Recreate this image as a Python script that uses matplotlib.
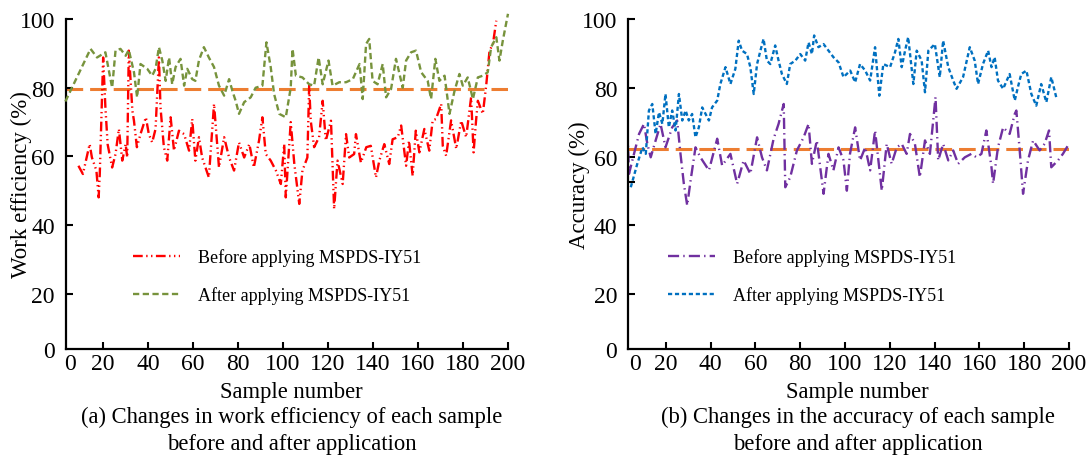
import matplotlib
matplotlib.use('Agg')
import matplotlib.pyplot as plt

plt.rcParams['font.family'] = ['Liberation Serif', 'DejaVu Serif']
plt.rcParams['lines.scale_dashes'] = False

# (a) work efficiency, before applying
amostra_antes_a = [9, 11, 14, 15, 17, 18, 18.5, 20, 21, 22, 24, 25.5, 27, 28.5, 30, 30.7, 31.4, 33, 33.7, 35, 36.6, 39,
                   40.3, 41.8, 43.3, 44.8, 45.5, 47, 48.5, 50, 51.5, 53.7, 56, 58.2, 59.6, 61, 62.6, 64, 67, 69.3,
                   70, 71.5, 73.8, 76, 78.2, 80.4, 82.7, 85, 87, 89.3, 90.8, 92.3, 94.5, 96.8, 99, 100.5, 101.2,
                   103.4, 105, 107.2, 108.6, 110.8, 111.6, 112.3, 113.8, 116, 117.6, 119, 121.3, 122.7, 124.2,
                   126.5, 128, 129.4, 131.6, 132.4, 134.6, 137, 139, 141.3, 142.8, 145, 147.2, 148.7, 151, 152.5,
                   154.7, 156, 157.6, 159, 160.6, 162.8, 165, 166.5, 168, 170.3, 171, 172.5, 174.7, 177, 179.2,
                   181.4, 183.6, 184.7, 185.8, 186.6, 188.8, 190.3, 191.8, 193.3, 194.8]
eficiencia_antes = [57.3, 54.9, 63.6, 59.7, 55.9, 48.1, 54.9, 88.8, 74.3, 63.5, 56.8, 60.7, 68, 58.8, 63.6, 59.7, 90.8,
                    73.3, 70.4, 62.7, 66.5, 71.4, 66.5, 64.1, 68, 88.8, 74.3, 62.7, 58.8, 71.4, 61.7, 67.5, 66.5, 61.7,
                    70.9, 58.8, 65.6, 59.7, 53.9, 75.3, 69.4, 56.8, 65.6, 59.7, 55.9, 64.1, 59.7, 63.6, 56.8, 64.6,
                    71.4, 60.7, 58.8, 55.9, 52, 63.6, 48.1, 70, 57.8, 46.2, 55.9, 59.7, 80.6, 70.4, 62.7, 65.6, 76.2,
                    64.6, 70.4, 44.7, 58.8, 52, 66.5, 59.7, 60.7, 66.5, 58.2, 62.7, 63.1, 53.9, 58.8, 63.6, 57.8, 65,
                    65.6, 69, 57.3, 64.6, 54.4, 67.5, 61.2, 68, 61.7, 70.5, 70.9, 75.3, 63.1, 60.2, 70.5, 62.2, 70.4,
                    65.6, 77.2, 61.2, 70.4, 76.2, 72.4, 80.6, 90.8, 92.7, 99.5]

# (a) work efficiency, after applying
amostra_depois_a = [3.2, 14.4, 17.3, 21, 24, 25.5, 27.7, 30, 31.4, 33.7, 35.1, 36.6, 39.6, 41.8, 43.3, 44.8, 46.3,
                    47.8, 49.3, 50.7, 52.2, 54.4, 56, 57.4, 59.6, 61, 62.6, 64.8, 67, 69.3, 71.5, 73.8, 76, 77.5, 79,
                    80.4, 82.7, 85.6, 87.8, 90.8, 92.6, 94.5, 96, 98.3, 101.2, 103.4, 104.2, 105.7, 108.6, 111.6,
                    113.8, 115.8, 117.6, 120.2, 122, 125, 128, 131, 134, 135.4, 136.9, 138.3, 139.8, 142, 144.3,
                    145.8, 148, 150.2, 153.2, 154.7, 156.9, 159.1, 161.4, 164.3, 165.8, 167.7, 169.5, 171.8, 174,
                    176.2, 178.4, 179.9, 182.1, 184.4, 186.6, 188.8, 191, 192.5, 194.8, 196.2, 197.7, 200]
eficiencia_depois = [76, 91.3, 88.8, 90.3, 80, 90.8, 91.3, 89.3, 91, 84.5, 77.2, 86.9, 85.5, 83.5, 85.5, 91.8, 87.9,
                     82, 88.8, 81, 86, 88.4, 80.6, 85.5, 82.5, 82, 88, 91.8, 88.8, 86, 80.6, 77.7, 82.5, 79, 76, 72.4,
                     75.8, 77.2, 80, 80.6, 93.2, 86, 78.2, 72.4, 71.4, 80, 91.3, 83.5, 83, 81, 80.6, 88.8, 81, 87.9,
                     80.6, 81.6, 81.6, 82.5, 86.9, 76.7, 92.7, 94.2, 82, 81, 86.9, 77.2, 79.6, 88.4, 80, 87.9, 90.3,
                     90.8, 84.5, 82, 76.7, 88.4, 82, 83.5, 72.4, 79, 84, 80.6, 83, 76.7, 83, 83.5, 84.5, 91.8, 94.7,
                     87.9, 93.7, 101.5]

# (b) accuracy, before applying
amostra_antes_b = [2.8, 3.5, 5, 8, 10.2, 11.7, 13.2, 15.4, 17.6, 19.8, 22.8, 25, 26.5, 28, 29.5, 31, 33.2, 35.4, 39.2,
                   42.9, 45.1, 48.8, 51.8, 54.7, 57.7, 60.7, 62.9, 65.1, 68.1, 70.3, 72.6, 73.3, 75.5, 78.5, 81.5,
                   83.7, 85.2, 87.4, 90.4, 92.6, 94.8, 97.1, 99.3, 100.8, 102.2, 104.5, 106.7, 109, 111.2, 113.4,
                   116.4, 118.6, 120.8, 123.1, 125.3, 127.5, 129, 131.2, 133.4, 135.7, 137.9, 140.4, 141.6, 143.8,
                   146.1, 148.3, 150.5, 153.5, 156.4, 158.7, 160.9, 163.1, 165.4, 166.1, 168.3, 170.6, 173.5, 175.8,
                   176.5, 178, 179.5, 181.7, 184, 186.9, 189.1, 191.1, 192.1, 195.1, 197.3, 200]
precisao_antes = [67.6, 55, 58.9, 66.6, 69.5, 63.7, 59.8, 64.7, 69.5, 62.7, 68.5, 70.5, 60.8, 52.1, 45.8, 53, 62.7,
                  59.8, 56, 65.2, 57.4, 60.8, 52.1, 58.9, 55, 65.6, 59.8, 56, 65.2, 69.5, 75.3, 51.1, 54, 61.8, 65.6,
                  69.5, 57.9, 64.7, 49.2, 60.8, 56, 62.7, 58.9, 50.1, 60.8, 68.5, 58.9, 62.7, 56, 67.6, 50.1, 63.7,
                  57.9, 62.7, 63.7, 60.8, 66.6, 63.7, 54, 64.7, 60.8, 77.3, 58.9, 63.7, 58.9, 61.8, 57.9, 59.8, 60.8,
                  59.8, 60.8, 67.6, 56.9, 52.1, 62.7, 68.5, 66.6, 72.4, 73.4, 61.8, 49.2, 58.9, 64.7, 61.8, 63.7,
                  67.6, 56.9, 58.9, 60.8, 63.7]

# (b) accuracy, after applying
amostra_depois_b = [4.3, 7.2, 9.5, 11, 12.4, 13.9, 15.4, 16.9, 18.4, 19.8, 21.3, 22.8, 24.3, 25.8, 27.3, 28.8, 30.2,
                    31.7, 33.2, 34.7, 36.2, 37.7, 39.2, 40.6, 42.9, 44.3, 46.6, 48.8, 51, 52.5, 54, 56.2, 57.7, 59.2,
                    60.7, 62.2, 63.6, 65.1, 66.6, 68.8, 70.3, 71.8, 74, 75.5, 77.8, 80, 82.2, 83.7, 85.2, 86.2, 88.1,
                    90.4, 92.6, 94.8, 97.1, 99.3, 102.3, 104.5, 106.7, 109, 111.2, 113.4, 115.3, 117.1, 120.1, 122.3,
                    123.8, 125.3, 126.8, 128.2, 130.5, 132, 134.2, 135.7, 137.2, 140.1, 142.3, 143.8, 146.1, 148.3,
                    149.8, 152.7, 155.7, 157.9, 159.4, 161.6, 163.9, 165.4, 166.8, 168.3, 170.6, 173.5, 175.8, 177.2,
                    178.7, 181, 183.2, 185.4, 187.6, 189.9, 192.1, 194.3]
precisao_depois = [51.1, 57.9, 62.7, 60.8, 73.4, 75.3, 66.6, 72.9, 69.5, 78.2, 68.5, 73.4, 67.6, 78.2, 70.5, 73.4,
                   70.5, 72.4, 65.6, 68.5, 74.3, 72.4, 70.5, 74.3, 76.3, 81.1, 86, 81.1, 85.5, 93.7, 90.8, 89.8, 86,
                   78.2, 86.9, 90.8, 94.2, 87.9, 86.9, 92.3, 87.9, 84, 81.1, 86.9, 87.9, 89.8, 87.9, 93.2, 89.8, 95.2,
                   91.8, 92.7, 90.8, 88.9, 87.4, 83.1, 85, 81.6, 86.9, 85, 82.1, 91.8, 77.7, 86.9, 86, 90.3, 94.2, 86,
                   90.8, 94.7, 81.1, 90.8, 87.9, 78.7, 90.8, 92.7, 83.1, 93.7, 86, 82.1, 79.7, 83.1, 91.8, 87.9, 81.1,
                   86.9, 90.8, 86, 88.9, 82.1, 79.7, 84, 76.3, 80.2, 84, 85, 78.2, 74.8, 81.1, 75.8, 83.1, 77.3]

referencia_a = 79.5
referencia_b = 62.3

x_ticks = [20, 40, 60, 80, 100, 120, 140, 160, 180, 200]
y_ticks = [20, 40, 60, 80, 100]


def formatar_eixo(ax, x_min, y_min, x_zero, ylabel, ylabel_x, caption, caption_x):
    ax.spines['top'].set_visible(False)
    ax.spines['right'].set_visible(False)
    for lado in ['left', 'bottom']:
        ax.spines[lado].set_linewidth(1.6)
    ax.set_xlim(x_min, 200)
    ax.set_ylim(y_min, 100)

    # the "0" labels sit off the regular tick grid in the original
    ax.set_xticks([x_zero] + x_ticks)
    ax.set_xticklabels(['0'] + [str(t) for t in x_ticks])
    ax.set_yticks([y_min] + y_ticks)
    ax.set_yticklabels(['0'] + [str(t) for t in y_ticks])
    ax.xaxis.get_major_ticks()[0].tick1line.set_visible(False)
    ax.yaxis.get_major_ticks()[0].tick1line.set_visible(False)
    ax.tick_params(direction='in', length=5, width=1.5, labelsize=17, colors='black')
    ax.tick_params(axis='y', pad=8)
    ax.tick_params(axis='x', pad=3)

    ax.set_ylabel(ylabel, fontsize=16.5)
    ax.yaxis.set_label_coords(ylabel_x, 0.5)
    ax.text(caption_x, -0.13, 'Sample number', transform=ax.transAxes, ha='center', va='center', fontsize=16.3)
    ax.text(caption_x, -0.203, caption[0], transform=ax.transAxes, ha='center', va='center', fontsize=16.3)
    ax.text(caption_x, -0.285, caption[1], transform=ax.transAxes, ha='center', va='center', fontsize=16.3)


fig = plt.figure(figsize=(10.88, 4.56), dpi=100)
ax1 = fig.add_axes([0.0607, 0.2325, 0.4062, 0.7237])
ax2 = fig.add_axes([0.5775, 0.2325, 0.4050, 0.7237])

# (a)
ax1.axhline(referencia_a, color='#ED7D31', linewidth=2.2, linestyle=(0, (12, 5)), zorder=1)
ax1.plot(amostra_antes_a, eficiencia_antes, color='#FF0000', linewidth=1.7,
         linestyle=(0, (7, 2.5, 1, 2.5, 1, 2.5)), label='Before applying MSPDS-IY51', zorder=2)
ax1.plot(amostra_depois_a, eficiencia_depois, color='#77933C', linewidth=1.7,
         linestyle=(0, (4.5, 2.5)), label='After applying MSPDS-IY51', zorder=3, clip_on=False)
formatar_eixo(ax1, 3.5, 4.0, 5.3, 'Work efficiency (%)', -0.077,
              ['(a) Changes in work efficiency of each sample', 'before and after application'], 0.51)
ax1.legend(loc='upper left', bbox_to_anchor=(0.152, 0.305), frameon=False, fontsize=13,
           handlelength=2.6, handletextpad=1.0, labelspacing=1.1, borderpad=0, borderaxespad=0)

# (b)
ax2.axhline(referencia_b, color='#ED7D31', linewidth=2.2, linestyle=(0, (12, 5)), zorder=1)
ax2.plot(amostra_antes_b, precisao_antes, color='#7030A0', linewidth=1.7,
         linestyle=(0, (8, 3, 1, 3)), label='Before applying MSPDS-IY51', zorder=2)
ax2.plot(amostra_depois_b, precisao_depois, color='#0070C0', linewidth=1.7,
         linestyle=(0, (3, 2)), label='After applying MSPDS-IY51', zorder=3)
# label kept just left of the tick labels so the two do not collide
formatar_eixo(ax2, 3.2, 4.1, 6.0, 'Accuracy (%)', -0.087,
              ['(b) Changes in the accuracy of each sample', 'before and after application'], 0.52)
ax2.set_yticks([52.7], minor=True)
ax2.tick_params(which='minor', direction='in', length=5, width=1.5)
ax2.legend(loc='upper left', bbox_to_anchor=(0.09, 0.305), frameon=False, fontsize=13,
           handlelength=2.6, handletextpad=1.0, labelspacing=1.1, borderpad=0, borderaxespad=0)

plt.savefig('out.png', dpi=100)
